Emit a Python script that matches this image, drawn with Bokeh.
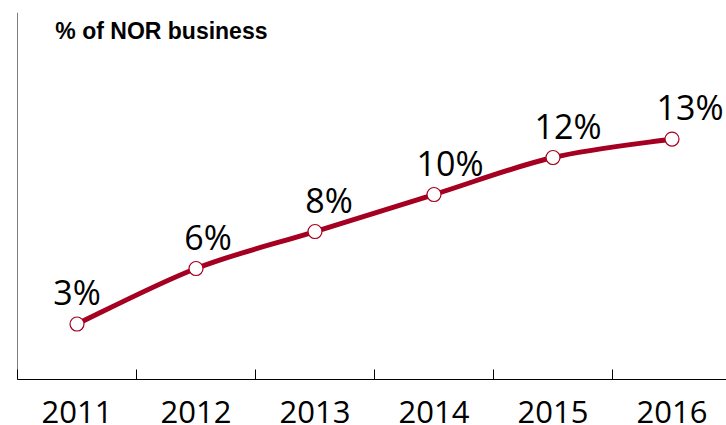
from bokeh.plotting import figure
from bokeh.models import Range1d, FixedTicker, Span, Label, ColumnDataSource
from bokeh.core.properties import value
from bokeh.embed import file_html
from bokeh.resources import INLINE

years = ["2011", "2012", "2013", "2014", "2015", "2016"]
shares = [3, 6, 8, 10, 12, 13]
labels = ["3%", "6%", "8%", "10%", "12%", "13%"]
title_text = "% of NOR business"

RED = "#A50021"
xs = list(range(len(years)))

p = figure(width=726, height=425, output_backend="svg", toolbar_location=None,
           x_range=Range1d(-0.5, 5.458), y_range=Range1d(0, 19.84),
           min_border_left=17, min_border_right=0, min_border_top=12, min_border_bottom=0)
p.outline_line_color = None
p.xgrid.visible = False
p.ygrid.visible = False
p.yaxis.visible = False

ax = p.xaxis[0]
ax.ticker = FixedTicker(ticks=xs, minor_ticks=[i - 0.5 for i in xs])
ax.major_label_overrides = {i: y for i, y in zip(xs, years)}
ax.major_tick_in = 0
ax.major_tick_out = 0
ax.minor_tick_in = 10
ax.minor_tick_out = 0
ax.minor_tick_line_color = "black"
ax.axis_line_color = "black"
ax.axis_line_width = 1
ax.major_label_text_font = "Open Sans"
ax.major_label_text_font_size = "31px"
ax.major_label_text_color = "black"
ax.major_label_standoff = 21

p.add_layout(Span(location=-0.5, dimension="height", line_color="black", line_width=1))

# smooth line through the points (Catmull-Rom as cubic Bezier segments)
n = len(xs)
x0, y0, x1, y1, cx0, cy0, cx1, cy1 = [], [], [], [], [], [], [], []
for i in range(n - 1):
    im1 = max(i - 1, 0)
    ip2 = min(i + 2, n - 1)
    x0.append(xs[i]); y0.append(shares[i])
    x1.append(xs[i + 1]); y1.append(shares[i + 1])
    cx0.append(xs[i] + (xs[i + 1] - xs[im1]) / 6)
    cy0.append(shares[i] + (shares[i + 1] - shares[im1]) / 6)
    cx1.append(xs[i + 1] - (xs[ip2] - xs[i]) / 6)
    cy1.append(shares[i + 1] - (shares[ip2] - shares[i]) / 6)
p.bezier(x0=x0, y0=y0, x1=x1, y1=y1, cx0=cx0, cy0=cy0, cx1=cx1, cy1=cy1,
         line_color=RED, line_width=5, line_cap="round")

p.scatter(xs, shares, size=14, fill_color="white", line_color=RED, line_width=1.2)

label_dx = [0, 12, 14, 16, 15, 18]
src = ColumnDataSource(dict(x=xs, y=shares, t=labels, dx=label_dx))
p.text(x="x", y="y", text="t", x_offset="dx", y_offset=-32, source=src,
       text_align="center", text_baseline="alphabetic",
       text_font=value("Open Sans"), text_font_size="34px", text_color="black")

p.add_layout(Label(x=-0.182, y=(377.8 - 32) / 18.37, text=title_text,
                   text_font="Liberation Sans", text_font_style="bold",
                   text_font_size="23px", text_color="black",
                   text_baseline="alphabetic"))

open("out.html", "w").write(file_html(p, INLINE))
